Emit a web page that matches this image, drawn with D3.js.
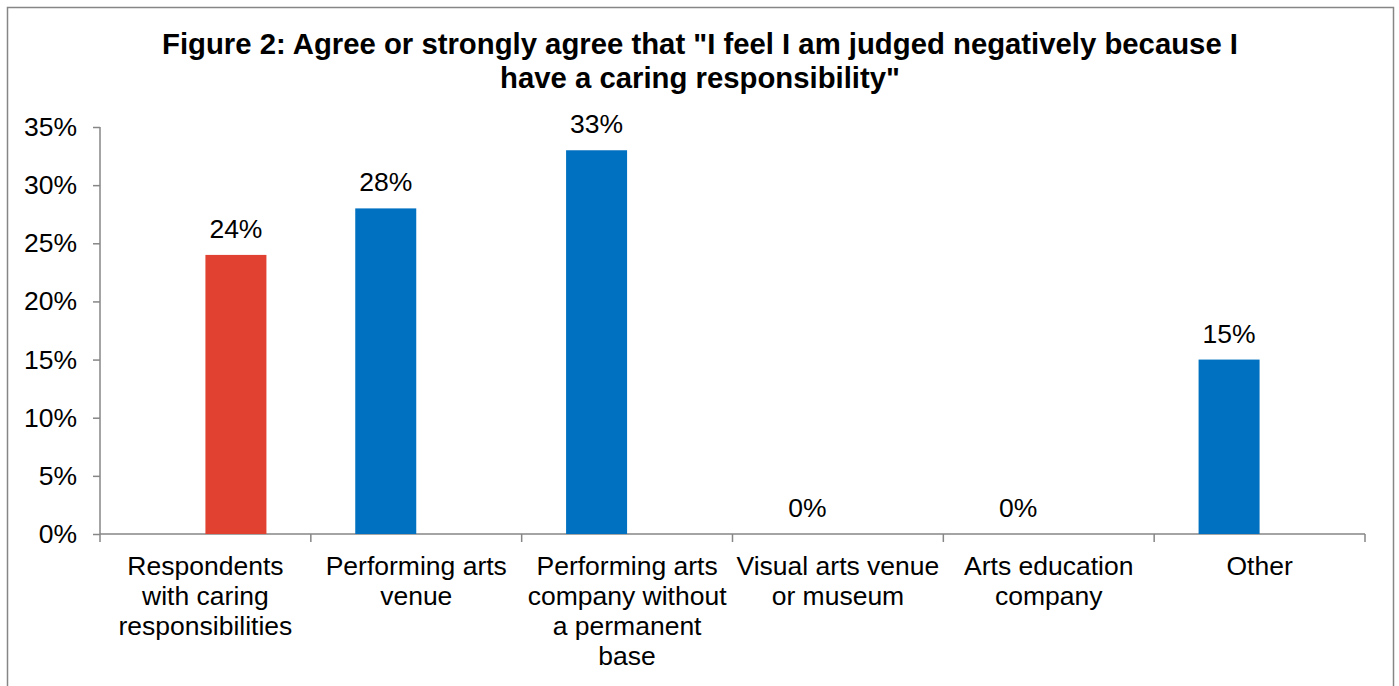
<!DOCTYPE html>
<html>
<head>
<meta charset="utf-8">
<script src="https://cdn.jsdelivr.net/npm/d3@7"></script>
<style>
    body { margin: 0; background: #fff; }
    svg { font-family: "Liberation Sans", Arial, sans-serif; }
</style>
</head>
<body>
<div id="chart"></div>
<script>
const categories = [
    ["Respondents", "with caring", "responsibilities"],
    ["Performing arts", "venue"],
    ["Performing arts", "company without", "a permanent", "base"],
    ["Visual arts venue", "or museum"],
    ["Arts education", "company"],
    ["Other"]
];
const blueValues = [null, 28, 33, 0, 0, 15];
const redValues = [24, null, null, null, null, null];
const yTicks = [0, 5, 10, 15, 20, 25, 30, 35];
const titleLines = [
    "Figure 2: Agree or strongly agree that \"I feel I am judged negatively because I",
    "have a caring responsibility\""
];

const width = 1399, height = 686;
const margin = { left: 100, right: 34, top: 127, bottom: 152 };
const innerW = width - margin.left - margin.right;
const innerH = height - margin.top - margin.bottom;
const fontSize = "26.5px";

const svg = d3.select("#chart").append("svg")
    .attr("width", width)
    .attr("height", height);

// outer frame
svg.append("rect")
    .attr("x", 7.5).attr("y", 7.5)
    .attr("width", 1386).attr("height", 700)
    .attr("fill", "none")
    .attr("stroke", "#868686")
    .attr("stroke-width", 1.5);

svg.append("g").selectAll("text").data(titleLines).enter().append("text")
    .attr("x", 700)
    .attr("y", (d, i) => 54 + i * 34)
    .attr("text-anchor", "middle")
    .attr("font-size", "29.3px")
    .attr("font-weight", "bold")
    .attr("fill", "#000")
    .text(d => d);

const g = svg.append("g")
    .attr("transform", `translate(${margin.left}, ${margin.top})`);

const idx = d3.range(categories.length);
const xScale = d3.scaleBand().domain(idx).range([0, innerW]);
const yScale = d3.scaleLinear().domain([0, 35]).range([innerH, 0]);
const barW = 61;

// y axis
const yAxis = g.append("g")
    .call(d3.axisLeft(yScale).tickValues(yTicks).tickSize(7).tickPadding(16)
        .tickFormat(d => d + "%"));
yAxis.select(".domain").attr("stroke", "#868686").attr("stroke-width", 1.5)
    .attr("d", `M0,0V${innerH}`);
yAxis.selectAll(".tick line").attr("stroke", "#868686").attr("stroke-width", 1.5);
yAxis.selectAll(".tick text").attr("font-size", fontSize).attr("fill", "#000")
    .attr("font-family", "Liberation Sans, Arial, sans-serif");

// x axis line and boundary ticks
const xAxis = g.append("g").attr("transform", `translate(0, ${innerH})`);
xAxis.append("line")
    .attr("x1", 0).attr("x2", innerW)
    .attr("stroke", "#868686").attr("stroke-width", 1.5);
xAxis.selectAll(".bt").data(d3.range(categories.length + 1)).enter().append("line")
    .attr("x1", d => d * xScale.bandwidth())
    .attr("x2", d => d * xScale.bandwidth())
    .attr("y1", 0).attr("y2", 8)
    .attr("stroke", "#868686").attr("stroke-width", 1.5);

const labels = xAxis.selectAll(".cat").data(categories).enter().append("text")
    .attr("text-anchor", "middle")
    .attr("font-size", fontSize)
    .attr("fill", "#000")
    .attr("transform", (d, i) => `translate(${xScale(i) + xScale.bandwidth() / 2}, 0)`);
labels.selectAll("tspan").data(d => d).enter().append("tspan")
    .attr("x", 0)
    .attr("y", (d, i) => 41 + i * 30)
    .text(d => d);

// bars: blue sits left of band centre, red right of it
function drawSeries(values, color, offset) {
    const pts = values.map((v, i) => ({ v, i })).filter(d => d.v !== null);
    g.append("g").selectAll("rect").data(pts).enter().append("rect")
        .attr("x", d => xScale(d.i) + xScale.bandwidth() / 2 + offset)
        .attr("y", d => yScale(d.v))
        .attr("width", barW)
        .attr("height", d => innerH - yScale(d.v))
        .attr("fill", color);
    g.append("g").selectAll("text").data(pts).enter().append("text")
        .attr("x", d => xScale(d.i) + xScale.bandwidth() / 2 + offset + barW / 2)
        .attr("y", d => yScale(d.v) - 17)
        .attr("text-anchor", "middle")
        .attr("font-size", fontSize)
        .attr("fill", "#000")
        .text(d => d.v + "%");
}
drawSeries(blueValues, "#0070C0", -barW);
drawSeries(redValues, "#E04131", 0);
</script>
</body>
</html>
